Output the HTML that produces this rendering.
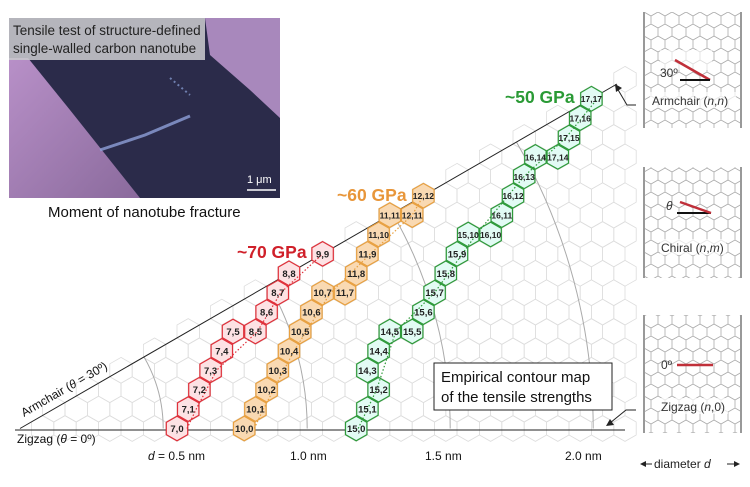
<!DOCTYPE html>
<html><head><meta charset="utf-8"><style>
html,body{margin:0;padding:0;background:#fff;}
svg{display:block;font-family:"Liberation Sans",sans-serif;}
</style></head><body>
<svg id="s" width="750" height="487" viewBox="0 0 750 487" xmlns="http://www.w3.org/2000/svg">
<defs>
<pattern id="tube" width="14" height="24" patternUnits="userSpaceOnUse">
<path d="M0,4 L7,0 L14,4 L14,12 L7,16 L0,12 Z M7,16 L7,24" fill="none" stroke="#aaa" stroke-width="0.8"/>
</pattern>
<linearGradient id="purp" x1="0" y1="0" x2="1" y2="1"><stop offset="0" stop-color="#b890c8"/><stop offset="1" stop-color="#8a6a9c"/></linearGradient>
</defs>
<rect x="9" y="18" width="271" height="180" fill="#2b2b4a"/>
<polygon points="9,58 28,58 70,110 140,198 9,198" fill="url(#purp)"/>
<polygon points="205,18 280,18 280,118 250,90 210,55" fill="#a888bc"/>
<path d="M100,150 L145,135 L190,116" stroke="#8ea0d8" stroke-width="3" fill="none" opacity="0.8"/>
<path d="M170,78 L190,95" stroke="#7080b0" stroke-width="2" stroke-dasharray="2 3" fill="none"/>
<rect x="9" y="18" width="196" height="42" fill="#c8c8cc" opacity="0.88"/>
<text x="13" y="35" font-size="13.5" fill="#222">Tensile test of structure-defined</text>
<text x="13" y="53" font-size="13.5" fill="#222">single-walled carbon nanotube</text>
<line x1="247" y1="190" x2="276" y2="190" stroke="#fff" stroke-width="1.5"/>
<text x="247" y="183" font-size="11" fill="#fff">1 μm</text>
<text x="48" y="217" font-size="15" fill="#111">Moment of nanotube fracture</text>
<g id="bg"></g>
<g id="arcs" fill="none" stroke="#aaa" stroke-width="1"></g>
<line x1="15" y1="430" x2="625" y2="430" stroke="#222" stroke-width="1"/>
<line x1="20" y1="428.5" x2="617" y2="84" stroke="#222" stroke-width="1"/>
<g id="fg"></g>
<text x="17" y="443" font-size="12" fill="#111">Zigzag (<tspan font-style="italic">θ</tspan> = 0º)</text>
<text transform="translate(24,417) rotate(-30)" font-size="12" fill="#111">Armchair (<tspan font-style="italic">θ</tspan> = 30º)</text>
<text x="148" y="460" font-size="12" fill="#111"><tspan font-style="italic">d</tspan> = 0.5 nm</text>
<text x="290" y="460" font-size="12" fill="#111">1.0 nm</text>
<text x="425" y="460" font-size="12" fill="#111">1.5 nm</text>
<text x="565" y="460" font-size="12" fill="#111">2.0 nm</text>
<text x="237" y="258" font-size="17.5" font-weight="bold" fill="#d0202a">~70 GPa</text>
<text x="337" y="201" font-size="17.5" font-weight="bold" fill="#e8963a">~60 GPa</text>
<text x="505" y="103" font-size="17.5" font-weight="bold" fill="#2a9a35">~50 GPa</text>
<rect x="434" y="363" width="178" height="47" fill="#fff" stroke="#222" stroke-width="1"/>
<text x="441" y="382" font-size="15" fill="#111">Empirical contour map</text>
<text x="441" y="402" font-size="15" fill="#111">of the tensile strengths</text>
<path d="M636,105 L627,105 L617,88" fill="none" stroke="#222"/>
<polygon points="615,84 622,88 616,92" fill="#222"/>
<path d="M636,410 L626,410 L610,423" fill="none" stroke="#222"/>
<polygon points="606,426 610,419 614,425" fill="#222"/>
<g>
<rect x="644" y="12" width="97" height="116" fill="url(#tube)"/>
<line x1="644" y1="12" x2="644" y2="128" stroke="#999" stroke-width="2"/><line x1="741" y1="12" x2="741" y2="128" stroke="#999" stroke-width="2"/>
<rect x="660" y="50" width="52" height="20" fill="#fff" opacity="0.6"/>
<line x1="675" y1="60" x2="710" y2="80" stroke="#c0303a" stroke-width="2.5"/>
<line x1="680" y1="80" x2="710" y2="80" stroke="#111" stroke-width="2"/>
<text x="660" y="77" font-size="12" fill="#333">30º</text>
<rect x="650" y="92" width="86" height="16" fill="#fff" opacity="0.7"/>
<text x="652" y="105" font-size="12" fill="#333">Armchair (<tspan font-style="italic">n</tspan>,<tspan font-style="italic">n</tspan>)</text>
<rect x="644" y="167" width="97" height="111" fill="url(#tube)"/>
<line x1="644" y1="167" x2="644" y2="278" stroke="#999" stroke-width="2"/><line x1="741" y1="167" x2="741" y2="278" stroke="#999" stroke-width="2"/>
<line x1="677" y1="213" x2="711" y2="213" stroke="#111" stroke-width="2"/>
<line x1="680" y1="202" x2="711" y2="213" stroke="#c0303a" stroke-width="2.5"/>
<text x="666" y="210" font-size="12" font-style="italic" fill="#333">θ</text>
<rect x="660" y="239" width="66" height="16" fill="#fff" opacity="0.7"/>
<text x="661" y="252" font-size="12" fill="#333">Chiral (<tspan font-style="italic">n</tspan>,<tspan font-style="italic">m</tspan>)</text>
<rect x="644" y="315" width="97" height="118" fill="url(#tube)"/>
<line x1="644" y1="315" x2="644" y2="433" stroke="#999" stroke-width="2"/><line x1="741" y1="315" x2="741" y2="433" stroke="#999" stroke-width="2"/>
<line x1="677" y1="365" x2="713" y2="365" stroke="#c0303a" stroke-width="2.5"/>
<text x="661" y="369" font-size="12" fill="#333">0º</text>
<rect x="660" y="398" width="68" height="16" fill="#fff" opacity="0.7"/>
<text x="661" y="411" font-size="12" fill="#333">Zigzag (<tspan font-style="italic">n</tspan>,0)</text>
</g>
<text x="654" y="468" font-size="12" fill="#222">diameter <tspan font-style="italic">d</tspan></text>
<line x1="643" y1="464" x2="652" y2="464" stroke="#222"/><polygon points="640,464 646,461 646,467" fill="#222"/>
<line x1="727" y1="464" x2="737" y2="464" stroke="#222"/><polygon points="740,464 734,461 734,467" fill="#222"/>
</svg>
<script>
var NS="http://www.w3.org/2000/svg";
var ox=20.2,oy=428.5,a=22.4,r=a/Math.sqrt(3);
function pos(n,m){return [ox+a*n+a/2*m, oy-1.5*r*m];}
function hex(cx,cy,rr){var p=[];for(var i=0;i<6;i++){var t=Math.PI/180*(60*i-90);p.push((cx+rr*Math.cos(t)).toFixed(1)+","+(cy+rr*Math.sin(t)).toFixed(1));}return p.join(" ");}
function el(t,at,par){var e=document.createElementNS(NS,t);for(var k in at)e.setAttribute(k,at[k]);par.appendChild(e);return e;}
var bg=document.getElementById("bg");
for(var m=0;m<=18;m++)for(var n=m;n<=27;n++){var p=pos(n,m);if(p[0]>628||p[0]<30)continue;el("polygon",{points:hex(p[0],p[1],r),fill:"none",stroke:"#ddd","stroke-width":0.8},bg);}
var arcs=document.getElementById("arcs");
[143,287,430,573].forEach(function(R){var x2=ox+R*Math.cos(Math.PI/6),y2=oy-R*0.5;el("path",{d:"M"+(ox+R)+","+oy+" A"+R+","+R+" 0 0 0 "+x2+","+y2},arcs);});
var fg=document.getElementById("fg");
function P(n,m,dx){var p=pos(n,m);return (p[0]+dx).toFixed(1)+","+p[1].toFixed(1);}
var series=[
 {f:"#fde2e4",s:"#e0303a",d:[P(7,0,10),P(7,1,8),P(7,3,6),P(8,5,2),P(8,7,3),P(9,9,0)],c:[[7,0],[7,1],[7,2],[7,3],[7,4],[7,5],[8,5],[8,6],[8,7],[8,8],[9,9]]},
 {f:"#f9d9b2",s:"#e8a040",d:[P(10,0,10),P(10,1,8),P(10,4,5),P(10,7,8),P(11,9,3),P(12,11,0),P(12,12,0)],c:[[10,0],[10,1],[10,2],[10,3],[10,4],[10,5],[10,6],[10,7],[11,7],[11,8],[11,9],[11,10],[11,11],[12,11],[12,12]]},
 {f:"#e2fbf4",s:"#2e9a3a",d:[P(15,0,2),P(15,2,-2),P(14,5,6),P(15,7,0),P(15,10,8),P(16,13,0),P(17,15,-3),P(17,17,6)],c:[[15,0],[15,1],[15,2],[14,3],[14,4],[14,5],[15,5],[15,6],[15,7],[15,8],[15,9],[15,10],[16,10],[16,11],[16,12],[16,13],[16,14],[17,14],[17,15],[17,16],[17,17]]}
];
series.forEach(function(S){
 S.c.forEach(function(c){var p=pos(c[0],c[1]);el("polygon",{points:hex(p[0],p[1],r-0.6),fill:S.f,stroke:S.s,"stroke-width":1.2},fg);});
 el("polyline",{points:S.d.join(" "),fill:"none",stroke:S.s,"stroke-width":1.2,"stroke-dasharray":"1.5 2"},fg);
 S.c.forEach(function(c){var p=pos(c[0],c[1]);var t=el("text",{x:p[0].toFixed(1),y:(p[1]+3.5).toFixed(1),"font-size":(c[0]>=10&&c[1]>=10)?8.5:9.5,"font-weight":"bold","text-anchor":"middle",fill:"#222"},fg);t.textContent=c[0]+","+c[1];});
});
</script>
</body></html>
